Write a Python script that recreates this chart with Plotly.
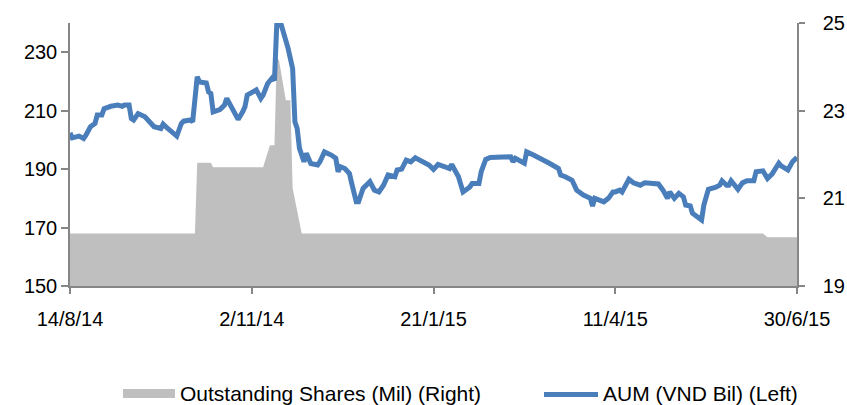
import pandas as pd
import plotly.graph_objects as go

# ---- data ----
start_date = "2014-08-14"

aum_day = [0, 1, 4, 6, 7, 9, 11, 12, 14, 15, 18, 21, 23, 24, 26, 27, 28, 30, 33, 35,
           37, 40, 41, 43, 45, 47, 49, 50, 53, 54, 56, 57, 60, 61, 62, 63, 66, 68, 69, 71,
           73, 74, 76, 77, 78, 80, 82, 84, 85, 87, 89, 90, 91, 93, 96, 98, 99, 100, 101, 103,
           104, 106, 109, 110, 112, 115, 117, 118, 119, 121, 123, 124, 126, 127, 129, 132, 134, 136, 138, 140,
           143, 144, 146, 148, 150, 152, 155, 158, 160, 162, 165, 167, 168, 171, 173, 176, 177, 180, 181, 183,
           185, 194, 195, 196, 200, 201, 204, 206, 209, 211, 215, 216, 218, 221, 223, 226, 229, 230, 231, 235,
           237, 239, 240, 242, 243, 246, 248, 251, 253, 256, 259, 261, 263, 264, 266, 268, 270, 271, 273, 274,
           276, 278, 279, 280, 281, 284, 286, 287, 289, 290, 291, 294, 296, 298, 301, 302, 305, 307, 309, 312,
           313, 316, 318, 320]
aum_vnd_bil = [202.4, 200.7, 201.3, 200.5, 201.6, 204.5, 205.6, 208.5, 208.5, 210.7, 211.5, 211.9, 211.5, 211.9, 211.9, 207.3, 206.8, 209.0, 207.9, 206.2,
               204.5, 203.9, 205.4, 203.9, 202.4, 201.3, 205.6, 206.4, 206.8, 206.2, 221.6, 219.8, 219.5, 216.4, 215.9, 209.6, 210.4, 211.9, 214.2, 211.5,
               209.0, 207.0, 209.6, 211.3, 215.3, 216.2, 217.1, 214.2, 215.3, 219.3, 221.2, 220.4, 239.3, 239.3, 231.3, 224.4, 206.2, 203.9, 197.1, 192.5,
               195.4, 191.9, 191.4, 192.5, 195.9, 194.8, 193.7, 189.1, 190.8, 190.2, 188.5, 185.1, 178.8, 178.8, 183.4, 185.7, 182.8, 182.2, 184.5, 188.0,
               187.4, 189.7, 190.0, 193.1, 192.5, 193.9, 192.5, 191.4, 189.9, 191.6, 190.8, 190.2, 191.6, 187.4, 182.2, 183.9, 185.1, 185.1, 189.1, 193.3,
               194.0, 194.2, 192.5, 193.7, 192.0, 195.9, 194.8, 194.0, 193.1, 192.0, 190.2, 188.0, 187.4, 186.2, 182.8, 181.1, 180.0, 177.4, 180.0, 178.8,
               180.0, 182.2, 182.2, 182.8, 182.2, 186.5, 185.3, 184.5, 185.3, 184.9, 184.9, 182.8, 180.0, 182.2, 180.0, 181.7, 180.5, 177.7, 177.4, 174.9,
               173.5, 172.6, 177.7, 180.0, 183.1, 183.7, 184.5, 186.0, 184.5, 184.5, 186.0, 183.1, 185.3, 186.0, 186.0, 189.1, 189.4, 186.8, 188.3, 192.0,
               191.1, 189.7, 192.5, 194.0]

shares_day = [0, 55, 56, 62, 63, 85, 88, 90, 91, 92, 95, 97, 98, 102, 305, 307, 320]
shares_mil = [20.2, 20.2, 21.81, 21.81, 21.71, 21.71, 22.21, 22.21, 24.2, 24.15, 23.24, 23.24, 21.23, 20.2, 20.2, 20.11, 20.11]

tick_dates = ["2014-08-14", "2014-11-02", "2015-01-21", "2015-04-11", "2015-06-30"]
tick_labels = ["14/8/14", "2/11/14", "21/1/15", "11/4/15", "30/6/15"]

left_ticks = [150, 170, 190, 210, 230]
right_ticks = [19, 21, 23, 25]

legend_names = ["Outstanding Shares (Mil) (Right)", "AUM (VND Bil) (Left)"]

# ---- build ----
base = pd.Timestamp(start_date)
aum_dates = base + pd.to_timedelta(aum_day, unit="D")
shares_dates = base + pd.to_timedelta(shares_day, unit="D")

GRAY = "#BFBFBF"
BLUE = "#4A7EBB"
AXIS = "#868686"
FONT = "Liberation Sans, Arial, sans-serif"
NBSP = "\u00a0"

fig = go.Figure()
fig.add_trace(go.Scatter(x=shares_dates, y=shares_mil, mode="lines", fill="tozeroy",
                         fillcolor=GRAY, line=dict(width=0, color=GRAY),
                         name=legend_names[0], yaxis="y", hoverinfo="x+y"))
fig.add_trace(go.Scatter(x=aum_dates, y=aum_vnd_bil, mode="lines",
                         line=dict(width=5, color=BLUE),
                         name=legend_names[1], yaxis="y2", hoverinfo="x+y"))

W, H = 847, 405
ml, mr, mt, mb = 70, 50, 23, 119
pw, ph = W - ml - mr, H - mt - mb


def px_x(px):
    return (px - ml) / pw


def px_y(py):
    return (H - mb - py) / ph


shapes = [
    dict(type="rect", xref="paper", yref="paper",
         x0=px_x(123), x1=px_x(175), y0=px_y(398), y1=px_y(389),
         fillcolor=GRAY, line=dict(width=0)),
    dict(type="line", xref="paper", yref="paper",
         x0=px_x(544), x1=px_x(598), y0=px_y(394.5), y1=px_y(394.5),
         line=dict(color=BLUE, width=5)),
]
annotations = [
    dict(xref="paper", yref="paper", x=px_x(178), y=px_y(393.5), xanchor="left", yanchor="middle",
         text=legend_names[0], showarrow=False, font=dict(size=21, color="#000000", family=FONT)),
    dict(xref="paper", yref="paper", x=px_x(601), y=px_y(393.5), xanchor="left", yanchor="middle",
         text=legend_names[1], showarrow=False, font=dict(size=21, color="#000000", family=FONT)),
]

axis_common = dict(showgrid=False, zeroline=False, showline=True, linecolor=AXIS, linewidth=1.5,
                   ticks="outside", tickcolor=AXIS, tickwidth=1.5, automargin=False,
                   tickfont=dict(size=20, color="#000000", family=FONT))

fig.update_layout(
    width=W, height=H, autosize=False,
    margin=dict(l=ml, r=mr, t=mt, b=mb, pad=0, autoexpand=False),
    paper_bgcolor="white", plot_bgcolor="white",
    font=dict(family=FONT, size=20, color="#000000"),
    showlegend=False,
    shapes=shapes,
    annotations=annotations,
    xaxis=dict(type="date", range=[tick_dates[0], tick_dates[-1]],
               tickvals=tick_dates, ticktext=tick_labels,
               ticklen=6, ticklabelstandoff=8, **axis_common),
    yaxis=dict(side="right", range=[19, 25], tickvals=right_ticks,
               ticklen=6, ticklabelstandoff=14, **axis_common),
    yaxis2=dict(side="left", overlaying="y", range=[150, 240], tickvals=left_ticks,
                ticklen=7, ticksuffix=NBSP * 4, **axis_common),
)

fig.write_html("out.html", config={"displayModeBar": False},
               post_script="document.body.style.margin='0px';")
